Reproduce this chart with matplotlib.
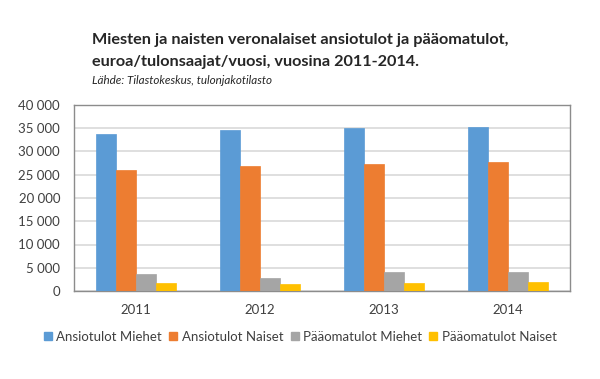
import matplotlib
matplotlib.use("Agg")
import matplotlib.pyplot as plt
import numpy as np
from matplotlib.lines import Line2D

plt.rcParams['font.family'] = ['Lato', 'DejaVu Sans']

years = ["2011", "2012", "2013", "2014"]
series_names = ["Ansiotulot Miehet", "Ansiotulot Naiset", "Pääomatulot Miehet", "Pääomatulot Naiset"]
ansio_miehet = [33800, 34600, 35000, 35200]
ansio_naiset = [25950, 26800, 27350, 27650]
paaoma_miehet = [3650, 2850, 4000, 4000]
paaoma_naiset = [1700, 1550, 1700, 1950]
colors = ["#5B9BD5", "#ED7D31", "#A5A5A5", "#FFC000"]
yticks = [0, 5000, 10000, 15000, 20000, 25000, 30000, 35000, 40000]
ytick_labels = ["0", "5 000", "10 000", "15 000", "20 000", "25 000", "30 000", "35 000", "40 000"]

fig = plt.figure(figsize=(6, 3.79), dpi=100)
ax = fig.add_axes([74/600, 1-291/379, (570-74)/600, (291-105)/379])

x = np.arange(len(years))
w = 0.16
data = [ansio_miehet, ansio_naiset, paaoma_miehet, paaoma_naiset]
for i, (vals, c) in enumerate(zip(data, colors)):
    ax.bar(x + (i - 1.5) * w, vals, width=w, color=c, edgecolor=c, linewidth=0.5, zorder=3)

ax.set_xlim(-0.5, 3.5)
ax.set_ylim(0, 40000)
ax.set_yticks(yticks)
ax.set_yticklabels(ytick_labels)
ax.set_xticks(x)
ax.set_xticklabels(years)
ax.tick_params(axis='both', length=0, labelsize=9.5, colors="#404040")
ax.tick_params(axis='y', pad=10)
ax.tick_params(axis='x', pad=9)
ax.yaxis.grid(True, color="#D9D9D9", linewidth=1.2, zorder=0)
for s in ax.spines.values():
    s.set_color("#8C8C8C")
    s.set_linewidth(1)

fig.text(92/600, 1-40/379, "Miesten ja naisten veronalaiset ansiotulot ja pääomatulot,",
         fontsize=11.7, fontweight='bold', color="#262626", va='center', ha='left')
fig.text(92/600, 1-62/379, "euroa/tulonsaajat/vuosi, vuosina 2011-2014.",
         fontsize=11.7, fontweight='bold', color="#262626", va='center', ha='left')
fig.text(92/600, 1-80/379, "Lähde: Tilastokeskus, tulonjakotilasto",
         fontsize=8.4, style='italic', color="#262626", va='center', ha='left')

handles = [Line2D([0], [0], marker='s', linestyle='none', markersize=6,
                  markerfacecolor=c, markeredgecolor=c) for c in colors]
fig.legend(handles, series_names, loc='center', bbox_to_anchor=(0.5, 1-337/379),
           ncol=4, frameon=False, fontsize=9.5, handlelength=0.7, handletextpad=0.3,
           columnspacing=0.5, labelcolor="#404040")

fig.savefig("out.png", dpi=100, facecolor="white")
